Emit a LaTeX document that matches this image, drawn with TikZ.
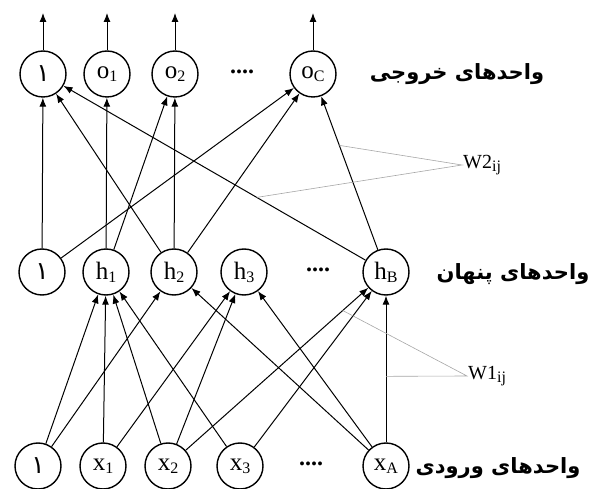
\documentclass[tikz,border=0pt]{standalone}
\usepackage{fontspec}
\setmainfont{Liberation Serif}
\newfontfamily\farsifont[Script=Arabic]{DejaVu Sans}
\TeXXeTstate=1
\usetikzlibrary{arrows.meta}

\tikzset{
  unit/.style={circle, draw, line width=1.4pt, minimum size=46pt, inner sep=0pt, font=\fontsize{25}{25}\selectfont},
  link/.style={-{Latex[length=9pt,width=7pt]}, line width=1pt},
  gapdots/.style={font=\bfseries\fontsize{24}{24}\selectfont},
  layer/.style={font=\farsifont\bfseries\fontsize{21}{25}\selectfont},
  weight/.style={font=\fontsize{20}{20}\selectfont, anchor=west, inner sep=1pt},
  pointer/.style={gray!70, line width=0.6pt}
}
\newcommand{\sub}[1]{\raisebox{-3pt}{\fontsize{16}{16}\selectfont #1}}
\newcommand{\biasone}{{\farsifont ١}}

\begin{document}
\begin{tikzpicture}[x=1pt,y=-1pt]
\useasboundingbox (0,0) rectangle (595,489);

% Output layer
\node[unit] (out0) at (43,74) {\biasone};
\node[unit] (o1) at (107,74) {o\sub{1}};
\node[unit] (o2) at (175,74) {o\sub{2}};
\node[gapdots] (dotsO) at (242,72) {....};
\node[unit] (oC) at (313,74) {o\sub{C}};
\node[layer] (outname) at (457,74) {\beginR واحدهای خروجی\endR};

% Hidden layer
\node[unit] (hid0) at (42,272) {\biasone};
\node[unit] (h1) at (106,272) {h\sub{1}};
\node[unit] (h2) at (174,272) {h\sub{2}};
\node[unit] (h3) at (244,272) {h\sub{3}};
\node[gapdots] (dotsH) at (318,270) {....};
\node[unit] (hB) at (386,272) {h\sub{B}};
\node[layer] (hidname) at (513,274) {\beginR واحدهای پنهان\endR};

% Input layer
\node[unit] (in0) at (38,466) {\biasone};
\node[unit] (x1) at (103,466) {x\sub{1}};
\node[unit] (x2) at (168,466) {x\sub{2}};
\node[unit] (x3) at (240,466) {x\sub{3}};
\node[gapdots] (dotsI) at (311,464) {....};
\node[unit] (xA) at (386,466) {x\sub{A}};
\node[layer] (inname) at (498,468) {\beginR واحدهای ورودی\endR};

% Outgoing arrows
\coordinate (t0) at (43,13);
\coordinate (t1) at (107,13);
\coordinate (t2) at (175,13);
\coordinate (tC) at (313,13);
\draw[link] (out0) -- (t0);
\draw[link] (o1) -- (t1);
\draw[link] (o2) -- (t2);
\draw[link] (oC) -- (tC);

% Hidden to output
\draw[link] (hid0) -- (out0);
\draw[link] (hid0) -- (oC);
\draw[link] (h1) -- (o1);
\draw[link] (h1) -- (o2);
\draw[link] (h2) -- (out0);
\draw[link] (h2) -- (o2);
\draw[link] (h2) -- (oC);
\draw[link] (hB) -- (out0) coordinate[pos=0.36] (w2b);
\draw[link] (hB) -- (oC) coordinate[pos=0.68] (w2a);

% Input to hidden
\draw[link] (in0) -- (h1);
\draw[link] (in0) -- (h2);
\draw[link] (x1) -- (h1);
\draw[link] (x1) -- (h3);
\draw[link] (x2) -- (h1);
\draw[link] (x2) -- (h3);
\draw[link] (x2) -- (hB) coordinate[pos=0.86] (w1a);
\draw[link] (x3) -- (h1);
\draw[link] (x3) -- (hB);
\draw[link] (xA) -- (h2);
\draw[link] (xA) -- (h3);
\draw[link] (xA) -- (hB) coordinate[pos=0.45] (w1b);

% Weight labels
\coordinate (w2tip) at (462,165);
\coordinate (w1tip) at (467,376);
\node[weight] (w2) at (w2tip) {W2\sub{ij}};
\node[weight] (w1) at (w1tip) {W1\sub{ij}};
\draw[pointer] (w2a) -- (w2tip) -- (w2b);
\draw[pointer] (w1a) -- (w1tip) -- (w1b);
\end{tikzpicture}
\end{document}
